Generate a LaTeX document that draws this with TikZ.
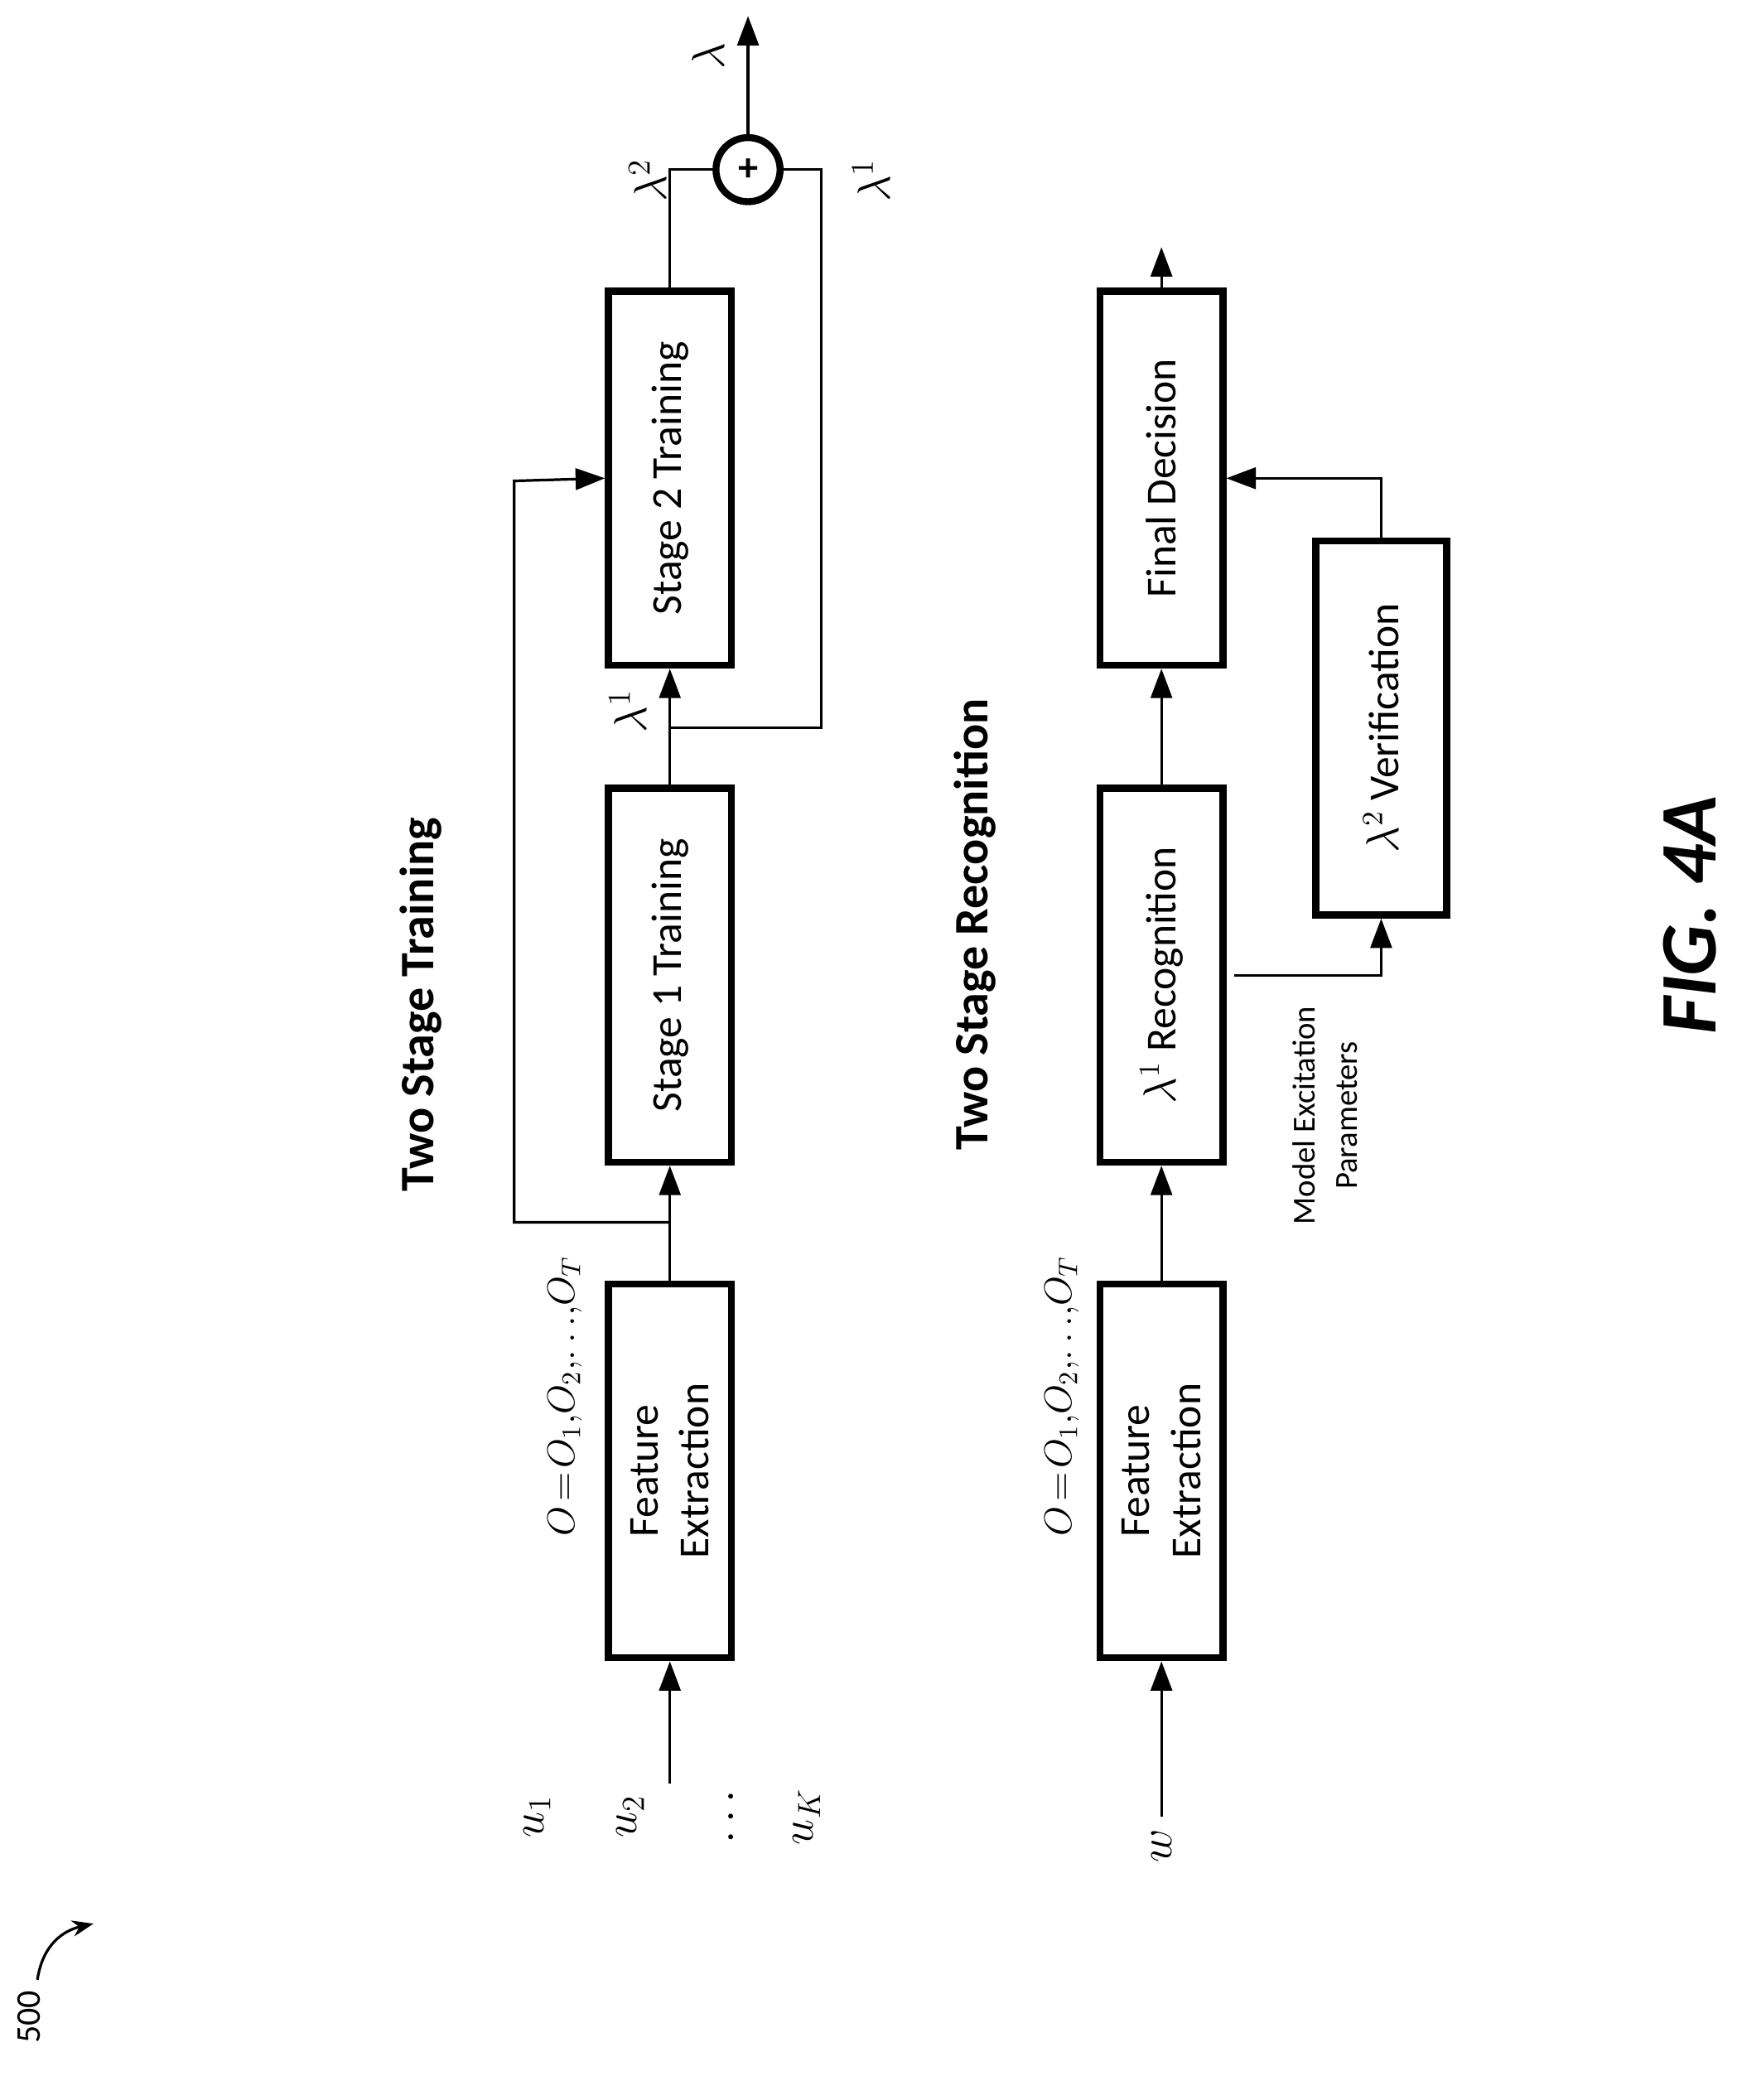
\documentclass[tikz,border=0pt]{standalone}
\usepackage{fontspec}
\setmainfont{Carlito}
\usetikzlibrary{arrows.meta,calc}
\begin{document}
\begin{tikzpicture}[x=0.5pt,y=-0.5pt,
 box/.style={draw,line width=2.6pt,rotate=90,minimum width=140pt,minimum height=46pt,inner sep=0pt,align=center,font=\fontsize{16}{19}\selectfont},
 ln/.style={line width=1pt},
 ar/.style={line width=1pt,-{Triangle[length=11pt,width=8pt]}},
 lab/.style={rotate=90,font=\fontsize{17}{20}\selectfont}]
\useasboundingbox (0,0) rectangle (1300,1572);
% training row
\node[box] (fe1) at (501.5,1101) {Feature\\Extraction};
\node[box] (s1) at (501.5,730) {Stage 1 Training};
\node[box] (s2) at (501.5,358) {Stage 2 Training};
\node[draw,circle,line width=2.6pt,minimum size=24pt,inner sep=0pt] (sum) at (560,127) {};
\node[font=\bfseries\fontsize{15}{15}\selectfont] at (sum) {+};
\coordinate (in1) at (501.5,1335);
\draw[ar] (in1) -- (fe1.west);
\draw[ar] (fe1.east) -- (s1.west);
\draw[ar] (s1.east) -- (s2.west);
\coordinate (fb) at (501.5,915);
\coordinate (fbL) at (385,915);
\coordinate (fbT) at (385,360);
\draw[ar] (fb) -- (fbL) -- (fbT) -- (s2.north);
\coordinate (br) at (501.5,545);
\coordinate (brR) at (615,545);
\coordinate (brT) at (615,127);
\draw[ln] (br) -- (brR) -- (brT) -- (sum.east);
\coordinate (s2T) at (501.5,127);
\draw[ln] (s2.east) -- (s2T) -- (sum.west);
\coordinate (out) at (560,12);
\draw[ar] (sum.north) -- (out);
\node[lab] (l0) at (530,42) {$\lambda$};
\node[lab] (l2) at (485,135) {$\lambda^2$};
\node[lab] (l1b) at (652,135) {$\lambda^1$};
\node[lab] (l1a) at (470,532) {$\lambda^1$};
\node[lab] (u1) at (402,1360) {$u_1$};
\node[lab] (u2) at (472,1360) {$u_2$};
\node[lab] (ud) at (548,1360) {$\cdots$};
\node[lab] (uk) at (604,1360) {$u_K$};
\node[rotate=90,font=\fontsize{14}{16}\selectfont] (o1) at (423,1045) {$O\!=\!O_1,\!O_2,\!\ldots\!,\!O_T$};
\node[rotate=90,font=\bfseries\fontsize{18}{21}\selectfont] (t1) at (315,752) {Two Stage Training};
% recognition row
\node[box] (fe2) at (869.5,1101) {Feature\\Extraction};
\node[box] (r1) at (869.5,730) {$\lambda^1$ Recognition};
\node[box] (fd) at (869.5,358) {Final Decision};
\node[box,minimum height=49pt] (ver) at (1034,545) {$\lambda^2$ Verification};
\coordinate (in2) at (869.5,1360);
\draw[ar] (in2) -- (fe2.west);
\draw[ar] (fe2.east) -- (r1.west);
\draw[ar] (r1.east) -- (fd.west);
\coordinate (out2) at (869.5,185);
\draw[ar] (fd.east) -- (out2);
\coordinate (rb) at (924,730);
\coordinate (rbR) at (1034,730);
\draw[ar] (rb) -- (rbR) -- (ver.west);
\draw[ar] (ver.east) -- (ver.east |- fd.south) -- (fd.south);
\node[lab] (w) at (870,1382) {$w$};
\node[rotate=90,font=\fontsize{14}{16}\selectfont] (o2) at (795,1045) {$O\!=\!O_1,\!O_2,\!\ldots\!,\!O_T$};
\node[rotate=90,align=center,font=\fontsize{12}{16}\selectfont] (mep) at (992,835) {Model Excitation\\Parameters};
\node[rotate=90,font=\bfseries\fontsize{18}{21}\selectfont] (t2) at (730,692) {Two Stage Recognition};
\node[rotate=90,font=\bfseries\itshape\fontsize{30}{34}\selectfont] (fig) at (1265,685) {FIG. 4A};
\node[rotate=90,font=\fontsize{13}{15}\selectfont] (n500) at (22,1510) {500};
\coordinate (c0) at (28,1482);
\coordinate (c1) at (70,1440);
\draw[line width=1pt,-{Stealth[length=8pt,width=6pt]}] (c0) .. controls (32,1455) and (48,1445) .. (c1);
\end{tikzpicture}
\end{document}
